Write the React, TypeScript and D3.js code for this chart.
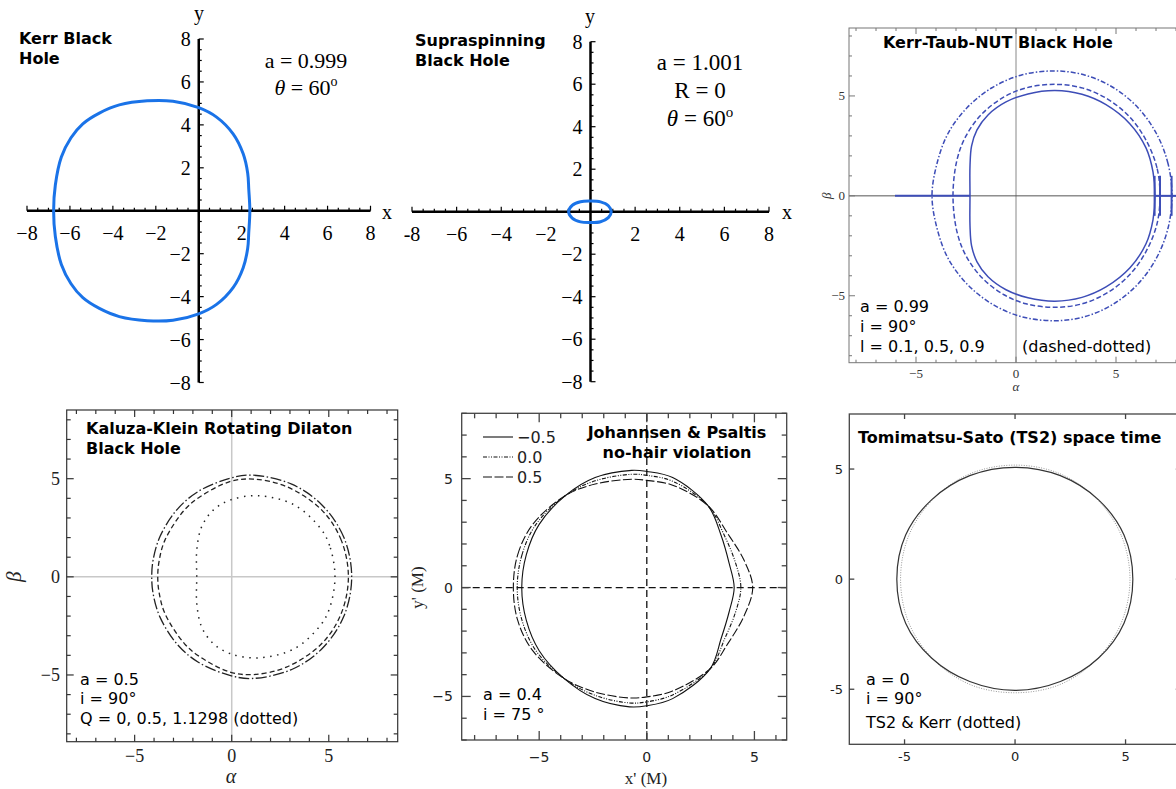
import React from 'react';
import * as d3 from 'd3';

type Pt = [number, number];

const SANS = 'DejaVu Sans, sans-serif';
const SERIF = 'Liberation Serif, Times New Roman, serif';

// Kerr black hole, a = 0.999, theta = 60
const kerrShadow: Pt[] = [
  [2.38, 0], [2.33, 1.0], [2.28, 1.75], [2.07, 2.65], [1.6, 3.58], [0.83, 4.36],
  [0, 4.8], [-1.2, 5.1], [-2.4, 5.12], [-3.7, 4.93], [-4.63, 4.55], [-5.4, 4.05],
  [-5.95, 3.4], [-6.4, 2.5], [-6.68, 1.2], [-6.76, 0],
  [-6.68, -1.2], [-6.4, -2.5], [-5.95, -3.4], [-5.4, -4.05], [-4.63, -4.55],
  [-3.7, -4.93], [-2.4, -5.12], [-1.2, -5.1], [0, -4.8], [0.83, -4.36],
  [1.6, -3.58], [2.07, -2.65], [2.28, -1.75], [2.33, -1.0],
];

// Supraspinning, a = 1.001
const supraShadow: Pt[] = [
  [0.93, 0], [0.8, 0.28], [0.45, 0.46], [0, 0.5], [-0.45, 0.47], [-0.82, 0.3], [-0.98, 0],
  [-0.82, -0.3], [-0.45, -0.48], [0, -0.51], [0.45, -0.47], [0.8, -0.28],
];

const crossTickValues = [-8, -6, -4, -2, 2, 4, 6, 8];
const kerrXLabels = ['−8', '−6', '−4', '−2', '2', '4', '6', '8'];
const supraXLabels = ['-8', '−6', '−4', '−2', '2', '4', '6', '8'];
const crossYLabels = ['−8', '−6', '−4', '−2', '2', '4', '6', '8'];

// Kerr-Taub-NUT, l = 0.1 (solid), 0.5 (dashed), 0.9 (dash-dotted)
const nutSolid: Pt[] = [
  [6.95, 0], [6.85, 1.2], [6.5, 2.4], [5.7, 3.6], [4.5, 4.56], [3.3, 5.08], [1.95, 5.27],
  [0.6, 5.1], [-0.5, 4.7], [-1.4, 4.05], [-1.95, 3.3], [-2.22, 2.5], [-2.3, 1.5], [-2.3, 0],
  [-2.3, -1.5], [-2.22, -2.5], [-1.95, -3.3], [-1.4, -4.05], [-0.5, -4.7], [0.6, -5.1],
  [1.95, -5.27], [3.3, -5.08], [4.5, -4.56], [5.7, -3.6], [6.5, -2.4], [6.85, -1.2],
];
const nutDashed: Pt[] = [
  [7.2, 0], [7.05, 1.4], [6.5, 2.79], [5.68, 3.95], [4.6, 4.83], [3.35, 5.39], [1.95, 5.58],
  [0.5, 5.4], [-0.6, 4.95], [-1.7, 4.1], [-2.5, 3.0], [-2.95, 1.8], [-3.15, 0],
  [-2.95, -1.8], [-2.5, -3.0], [-1.7, -4.1], [-0.6, -4.95], [0.5, -5.4], [1.95, -5.58],
  [3.35, -5.39], [4.6, -4.83], [5.68, -3.95], [6.5, -2.79], [7.05, -1.4],
];
const nutDashDot: Pt[] = [
  [7.8, 0], [7.6, 1.62], [7.02, 3.12], [6.09, 4.42], [4.88, 5.41], [3.46, 6.04], [1.95, 6.25],
  [0.25, 6.04], [-1.2, 5.41], [-2.44, 4.42], [-3.4, 3.12], [-3.95, 1.62], [-4.2, 0],
  [-3.95, -1.62], [-3.4, -3.12], [-2.44, -4.42], [-1.2, -5.41], [0.25, -6.04], [1.95, -6.25],
  [3.46, -6.04], [4.88, -5.41], [6.09, -4.42], [7.02, -3.12], [7.6, -1.62],
];
const nutBranchLeft = [-6.05, -2.3];
const nutBranchRight = [6.9, 8.4];
const nutSpikes = [6.93, 7.2, 7.78];
const nutSpikeHeight = 1.0;

// Kaluza-Klein rotating dilaton, Q = 0, 0.5, 1.1298
const kkQ0: Pt[] = [
  [6.18, 0], [5.78, 2.0], [4.66, 3.65], [3.09, 4.72], [1.05, 5.18], [-0.1, 5.02], [-1.74, 4.34],
  [-2.84, 3.4], [-3.7, 2.04], [-4.05, 0.85], [-4.12, 0], [-4.05, -0.85], [-3.7, -2.04],
  [-2.84, -3.4], [-1.74, -4.34], [-0.1, -5.02], [1.05, -5.18], [3.09, -4.72], [4.66, -3.65], [5.78, -2.0],
];
const kkQ05: Pt[] = [
  [6.01, 0], [5.64, 1.87], [4.64, 3.4], [2.82, 4.6], [1.1, 4.98], [-0.1, 4.85], [-1.63, 4.08],
  [-2.44, 3.4], [-3.44, 1.87], [-3.74, 0.8], [-3.81, 0], [-3.74, -0.8], [-3.44, -1.87],
  [-2.44, -3.4], [-1.63, -4.08], [-0.1, -4.85], [1.1, -4.98], [2.82, -4.6], [4.64, -3.4], [5.64, -1.87],
];
const kkQ11: Pt[] = [
  [5.32, 0], [5.04, 1.6], [4.57, 2.47], [3.23, 3.66], [1.37, 4.13], [-0.09, 3.91], [-0.95, 3.4],
  [-1.55, 2.55], [-1.8, 1.36], [-1.8, 0], [-1.8, -1.36], [-1.55, -2.55], [-0.95, -3.4],
  [-0.09, -3.91], [1.37, -4.13], [3.23, -3.66], [4.57, -2.47], [5.04, -1.6],
];

// Johannsen & Psaltis, eps3 = -0.5, 0.0, 0.5
const jpMinus: Pt[] = [
  [-5.81, 0], [-5.6, 1.5], [-5.0, 2.9], [-3.77, 4.23], [-2.4, 5.05], [-0.7, 5.38], [0, 5.33],
  [1.2, 5.05], [2.85, 3.75], [3.45, 2.4], [3.83, 1.1], [4.06, 0], [3.83, -1.1], [3.45, -2.35],
  [2.95, -3.72], [1.2, -5.1], [0, -5.43], [-0.8, -5.48], [-2.4, -5.1], [-3.85, -4.17],
  [-5.0, -2.9], [-5.6, -1.5],
];
const jpZero: Pt[] = [
  [-6.02, 0], [-5.8, 1.5], [-5.15, 2.9], [-3.77, 4.23], [-2.4, 4.9], [-0.7, 5.2], [0, 5.15],
  [1.2, 4.88], [2.85, 3.75], [3.6, 2.4], [4.13, 1.11], [4.37, 0], [4.13, -1.11], [3.62, -2.35],
  [2.95, -3.72], [1.2, -4.93], [0, -5.25], [-0.8, -5.3], [-2.4, -4.95], [-3.85, -4.17],
  [-5.15, -2.9], [-5.8, -1.5],
];
const jpPlus: Pt[] = [
  [-6.2, 0], [-6.0, 1.5], [-5.3, 2.9], [-3.77, 4.23], [-2.4, 4.75], [-0.7, 4.97], [0, 4.92],
  [1.2, 4.7], [2.85, 3.75], [3.75, 2.49], [4.52, 1.25], [4.92, 0], [4.52, -1.3], [3.75, -2.6],
  [2.95, -3.72], [1.2, -4.75], [0, -5.02], [-0.8, -5.07], [-2.4, -4.8], [-3.85, -4.17],
  [-5.3, -2.9], [-6.0, -1.5],
];
const jpLegendLabels = ['−0.5', '0.0', '0.5'];

// Tomimatsu-Sato TS2 and Kerr (a = 0)
const ts2Shadow: Pt[] = [
  [5.33, 0], [4.93, 2.0], [3.78, 3.6], [2.05, 4.7], [0, 5.08], [-2.05, 4.7], [-3.78, 3.6],
  [-4.95, 2.0], [-5.35, 0], [-4.95, -2.0], [-3.78, -3.58], [-2.05, -4.65], [0, -5.05],
  [2.05, -4.65], [3.78, -3.58], [4.93, -2.0],
];
const tsKerrShadow: Pt[] = [
  [5.2, 0], [4.8, 2.0], [3.67, 3.67], [2.0, 4.8], [0, 5.18], [-2.0, 4.8], [-3.67, 3.67],
  [-4.8, 2.0], [-5.18, 0], [-4.8, -2.0], [-3.67, -3.67], [-2.0, -4.8], [0, -5.16],
  [2.0, -4.8], [3.67, -3.67], [4.8, -2.0],
];

const fiveTicks = [-5, 0, 5];
const fiveLabels = ['−5', '0', '5'];
const tsLabels = ['-5', '0', '5'];

type Scale = d3.ScaleLinear<number, number>;

function closedPath(pts: Pt[], x: Scale, y: Scale) {
  return d3.line<Pt>()
    .x(d => x(d[0]))
    .y(d => y(d[1]))
    .curve(d3.curveCatmullRomClosed.alpha(0.5))(pts) || '';
}

function CrossAxes({ x, y, xLabels }: { x: Scale; y: Scale; xLabels: string[] }) {
  const ox = x(0), oy = y(0);
  const [xa, xb] = x.range();
  const [yb, ya] = y.range();
  const minor = d3.range(-8, 8.25, 0.5).filter(v => v !== 0);
  return (
    <g>
      <line x1={xa} x2={xb} y1={oy} y2={oy} stroke="#000" strokeWidth={2.5} />
      <line x1={ox} x2={ox} y1={ya} y2={yb} stroke="#000" strokeWidth={2.5} />
      {minor.map(v => (
        <line key={'x' + v} x1={x(v)} x2={x(v)} y1={oy} y2={oy - (v % 2 === 0 ? 5 : 3)} stroke="#000" strokeWidth={1.2} />
      ))}
      {minor.map(v => (
        <line key={'y' + v} x1={ox} x2={ox + (v % 2 === 0 ? 5 : 3)} y1={y(v)} y2={y(v)} stroke="#000" strokeWidth={1.2} />
      ))}
      {crossTickValues.map((v, i) => (
        <text key={'xl' + v} x={x(v)} y={oy + 29} textAnchor="middle" fontFamily={SERIF} fontSize={20}>{xLabels[i]}</text>
      ))}
      {crossTickValues.map((v, i) => (
        <text key={'yl' + v} x={ox - 8} y={y(v) + 7} textAnchor="end" fontFamily={SERIF} fontSize={20}>{crossYLabels[i]}</text>
      ))}
    </g>
  );
}

function Frame({ x, y, xTicks, yTicks, minorLen, majorLen, stroke, strokeWidth }: {
  x: Scale; y: Scale; xTicks: number[]; yTicks: number[]; minorLen: number; majorLen: number; stroke: string; strokeWidth: number;
}) {
  const [l, r] = x.range();
  const [b, t] = y.range();
  const len = (v: number) => (v % 5 === 0 ? majorLen : minorLen);
  return (
    <g stroke={stroke} strokeWidth={strokeWidth} fill="none">
      <rect x={l} y={t} width={r - l} height={b - t} />
      {xTicks.map(v => (
        <g key={'xt' + v}>
          <line x1={x(v)} x2={x(v)} y1={b} y2={b - len(v)} />
          <line x1={x(v)} x2={x(v)} y1={t} y2={t + len(v)} />
        </g>
      ))}
      {yTicks.map(v => (
        <g key={'yt' + v}>
          <line x1={l} x2={l + len(v)} y1={y(v)} y2={y(v)} />
          <line x1={r} x2={r - len(v)} y1={y(v)} y2={y(v)} />
        </g>
      ))}
    </g>
  );
}

const unitTicks = (s: Scale) => {
  const [a, b] = s.domain();
  return d3.range(Math.ceil(a), Math.floor(b) + 1);
};

export default function App() {
  // panel 1: Kerr
  const x1 = d3.scaleLinear().domain([-8, 8]).range([27, 370.5]);
  const y1 = d3.scaleLinear().domain([-8, 8]).range([382.5, 39]);
  // panel 2: supraspinning
  const x2 = d3.scaleLinear().domain([-8, 8]).range([412, 769]);
  const y2 = d3.scaleLinear().domain([-8, 8]).range([381.7, 41.7]);
  // panel 3: Kerr-Taub-NUT
  const x3 = d3.scaleLinear().domain([-8.35, 8.4]).range([849, 1184]);
  const y3 = d3.scaleLinear().domain([-8.35, 8.4]).range([362.7, 28]);
  // panel 4: Kaluza-Klein
  const x4 = d3.scaleLinear().domain([-8.5, 8.55]).range([66.7, 397.7]);
  const y4 = d3.scaleLinear().domain([-8.4, 8.5]).range([741.7, 410]);
  // panel 5: Johannsen & Psaltis
  const x5 = d3.scaleLinear().domain([-8.6, 6.5]).range([461.7, 786.7]);
  const y5 = d3.scaleLinear().domain([-7, 8]).range([740, 413.3]);
  // panel 6: Tomimatsu-Sato
  const x6 = d3.scaleLinear().domain([-7.5, 7.5]).range([849.3, 1180.8]);
  const y6 = d3.scaleLinear().domain([-7.5, 7.5]).range([744.3, 414]);

  const kerrBlue = '#1a73e8';
  const nutBlue = '#3d4db7';
  const jpStyles = ['', '4,1.5,1,1.5,1,1.5', '9,2.5'];

  return (
    <svg width={1176} height={789} style={{ position: 'absolute', left: 0, top: 0, background: '#fff' }}>
      <rect width={1176} height={789} fill="#fff" />

      {/* Panel 1 */}
      <CrossAxes x={x1} y={y1} xLabels={kerrXLabels} />
      <path d={closedPath(kerrShadow, x1, y1)} fill="none" stroke={kerrBlue} strokeWidth={3} />
      <text x={387} y={219} textAnchor="middle" fontFamily={SERIF} fontSize={20}>x</text>
      <text x={199} y={20} textAnchor="middle" fontFamily={SERIF} fontSize={20}>y</text>
      <text x={19} y={44} fontFamily={SANS} fontWeight="bold" fontSize={16}>Kerr Black</text>
      <text x={19} y={64} fontFamily={SANS} fontWeight="bold" fontSize={16}>Hole</text>
      <text x={306} y={68} textAnchor="middle" fontFamily={SERIF} fontSize={22}>a = 0.999</text>
      <text x={306} y={95} textAnchor="middle" fontFamily={SERIF} fontSize={22}>
        <tspan fontStyle="italic">θ</tspan> = 60<tspan fontSize={14} dy={-9}>o</tspan>
      </text>

      {/* Panel 2 */}
      <CrossAxes x={x2} y={y2} xLabels={supraXLabels} />
      <path d={closedPath(supraShadow, x2, y2)} fill="none" stroke={kerrBlue} strokeWidth={3} />
      <text x={787} y={219} textAnchor="middle" fontFamily={SERIF} fontSize={20}>x</text>
      <text x={590} y={23} textAnchor="middle" fontFamily={SERIF} fontSize={20}>y</text>
      <text x={415} y={46} fontFamily={SANS} fontWeight="bold" fontSize={16}>Supraspinning</text>
      <text x={415} y={66} fontFamily={SANS} fontWeight="bold" fontSize={16}>Black Hole</text>
      <text x={700} y={70} textAnchor="middle" fontFamily={SERIF} fontSize={23}>a = 1.001</text>
      <text x={700} y={98} textAnchor="middle" fontFamily={SERIF} fontSize={23}>R = 0</text>
      <text x={700} y={126} textAnchor="middle" fontFamily={SERIF} fontSize={23}>
        <tspan fontStyle="italic">θ</tspan> = 60<tspan fontSize={15} dy={-9}>o</tspan>
      </text>

      {/* Panel 3 */}
      <line x1={x3(0)} x2={x3(0)} y1={y3.range()[0]} y2={y3.range()[1]} stroke="#888" strokeWidth={1} />
      <line x1={x3.range()[0]} x2={x3.range()[1]} y1={y3(0)} y2={y3(0)} stroke="#555" strokeWidth={1} />
      <Frame x={x3} y={y3} xTicks={unitTicks(x3)} yTicks={unitTicks(y3)} minorLen={3} majorLen={6} stroke="#777" strokeWidth={1} />
      <g fill="none" stroke={nutBlue}>
        <path d={closedPath(nutSolid, x3, y3)} strokeWidth={1.5} />
        <path d={closedPath(nutDashed, x3, y3)} strokeWidth={1.5} strokeDasharray="5,2.5" />
        <path d={closedPath(nutDashDot, x3, y3)} strokeWidth={1.5} strokeDasharray="5,2,1.5,2" />
        <line x1={x3(nutBranchLeft[0])} x2={x3(nutBranchLeft[1])} y1={y3(0)} y2={y3(0)} strokeWidth={2} />
        <line x1={x3(nutBranchRight[0])} x2={x3(nutBranchRight[1])} y1={y3(0)} y2={y3(0)} strokeWidth={2} />
        {nutSpikes.map(v => (
          <line key={v} x1={x3(v)} x2={x3(v)} y1={y3(nutSpikeHeight)} y2={y3(-nutSpikeHeight)} strokeWidth={2} />
        ))}
      </g>
      {fiveTicks.map((v, i) => (
        <text key={'b3' + v} x={x3(v)} y={378} textAnchor="middle" fontFamily={SERIF} fontSize={13} fill="#333">{fiveLabels[i]}</text>
      ))}
      {fiveTicks.map((v, i) => (
        <text key={'l3' + v} x={845} y={y3(v) + 4} textAnchor="end" fontFamily={SERIF} fontSize={13} fill="#333">{fiveLabels[i]}</text>
      ))}
      <text x={1016} y={391} textAnchor="middle" fontFamily={SERIF} fontStyle="italic" fontSize={13} fill="#333">α</text>
      <text transform={`translate(831,${y3(0)}) rotate(-90)`} textAnchor="middle" fontFamily={SERIF} fontStyle="italic" fontSize={13} fill="#333">β</text>
      <text x={883} y={48} fontFamily={SANS} fontWeight="bold" fontSize={16}>Kerr-Taub-NUT Black Hole</text>
      <text x={860} y={312} fontFamily={SANS} fontSize={16}>a = 0.99</text>
      <text x={860} y={332} fontFamily={SANS} fontSize={16}>i = 90°</text>
      <text x={860} y={352} fontFamily={SANS} fontSize={16}>l = 0.1, 0.5, 0.9</text>
      <text x={1022} y={352} fontFamily={SANS} fontSize={16}>(dashed-dotted)</text>

      {/* Panel 4 */}
      <line x1={x4(0)} x2={x4(0)} y1={y4.range()[0]} y2={y4.range()[1]} stroke="#c8c8c8" strokeWidth={1.5} />
      <line x1={x4.range()[0]} x2={x4.range()[1]} y1={y4(0)} y2={y4(0)} stroke="#c8c8c8" strokeWidth={1.5} />
      <Frame x={x4} y={y4} xTicks={unitTicks(x4)} yTicks={unitTicks(y4)} minorLen={4} majorLen={7} stroke="#333" strokeWidth={1.2} />
      <g fill="none" stroke="#222">
        <path d={closedPath(kkQ0, x4, y4)} strokeWidth={1.3} strokeDasharray="11,2.5,1.5,2.5" />
        <path d={closedPath(kkQ05, x4, y4)} strokeWidth={1.3} strokeDasharray="5,3" />
        <path d={closedPath(kkQ11, x4, y4)} strokeWidth={1.5} strokeDasharray="1.5,5.5" />
      </g>
      {fiveTicks.map((v, i) => (
        <text key={'b4' + v} x={x4(v)} y={762} textAnchor="middle" fontFamily={SERIF} fontSize={18} fill="#222">{fiveLabels[i]}</text>
      ))}
      {fiveTicks.map((v, i) => (
        <text key={'l4' + v} x={60} y={y4(v) + 6} textAnchor="end" fontFamily={SERIF} fontSize={18} fill="#222">{fiveLabels[i]}</text>
      ))}
      <text x={231} y={783} textAnchor="middle" fontFamily={SERIF} fontStyle="italic" fontSize={20} fill="#222">α</text>
      <text transform={`translate(21,${y4(0)}) rotate(-90)`} textAnchor="middle" fontFamily={SERIF} fontStyle="italic" fontSize={21} fill="#222">β</text>
      <text x={86} y={434} fontFamily={SANS} fontWeight="bold" fontSize={16}>Kaluza-Klein Rotating Dilaton</text>
      <text x={86} y={454} fontFamily={SANS} fontWeight="bold" fontSize={16}>Black Hole</text>
      <text x={80} y={685} fontFamily={SANS} fontSize={16}>a = 0.5</text>
      <text x={80} y={704} fontFamily={SANS} fontSize={16}>i = 90°</text>
      <text x={80} y={724} fontFamily={SANS} fontSize={16}>Q = 0, 0.5, 1.1298 (dotted)</text>

      {/* Panel 5 */}
      <line x1={x5(0)} x2={x5(0)} y1={y5.range()[0]} y2={y5.range()[1]} stroke="#111" strokeWidth={1.3} strokeDasharray="7,4" />
      <line x1={x5.range()[0]} x2={x5.range()[1]} y1={y5(0)} y2={y5(0)} stroke="#111" strokeWidth={1.3} strokeDasharray="7,4" />
      <Frame x={x5} y={y5} xTicks={unitTicks(x5)} yTicks={unitTicks(y5)} minorLen={5} majorLen={9} stroke="#444" strokeWidth={1.3} />
      <g fill="none" stroke="#111" strokeWidth={1.1}>
        <path d={closedPath(jpMinus, x5, y5)} strokeDasharray={jpStyles[0] || undefined} />
        <path d={closedPath(jpZero, x5, y5)} strokeDasharray={jpStyles[1]} />
        <path d={closedPath(jpPlus, x5, y5)} strokeDasharray={jpStyles[2]} />
      </g>
      {jpLegendLabels.map((lab, i) => (
        <g key={lab}>
          <line x1={483} x2={513} y1={437 + i * 20} y2={437 + i * 20} stroke="#111" strokeWidth={1.1} strokeDasharray={jpStyles[i] || undefined} />
          <text x={517} y={443 + i * 20} fontFamily={SANS} fontSize={16} fill="#222">{lab}</text>
        </g>
      ))}
      {fiveTicks.map((v, i) => (
        <text key={'b5' + v} x={x5(v)} y={762} textAnchor="middle" fontFamily={SANS} fontSize={14} fill="#222">{fiveLabels[i]}</text>
      ))}
      {fiveTicks.map((v, i) => (
        <text key={'l5' + v} x={453} y={y5(v) + 5} textAnchor="end" fontFamily={SANS} fontSize={14} fill="#222">{fiveLabels[i]}</text>
      ))}
      <text x={646} y={784} textAnchor="middle" fontFamily={SERIF} fontSize={17} fill="#222">x' (M)</text>
      <text transform={`translate(423,${y5(0)}) rotate(-90)`} textAnchor="middle" fontFamily={SERIF} fontSize={17} fill="#222">y' (M)</text>
      <text x={677} y={438} textAnchor="middle" fontFamily={SANS} fontWeight="bold" fontSize={16}>Johannsen &amp; Psaltis</text>
      <text x={677} y={458} textAnchor="middle" fontFamily={SANS} fontWeight="bold" fontSize={16}>no-hair violation</text>
      <text x={483} y={700} fontFamily={SANS} fontSize={16}>a = 0.4</text>
      <text x={483} y={720} fontFamily={SANS} fontSize={16}>i = 75 °</text>

      {/* Panel 6 */}
      <Frame x={x6} y={y6} xTicks={fiveTicks} yTicks={fiveTicks} minorLen={5} majorLen={5} stroke="#444" strokeWidth={1.3} />
      <path d={closedPath(tsKerrShadow, x6, y6)} fill="none" stroke="#999" strokeWidth={1} strokeDasharray="1,1.5" />
      <path d={closedPath(ts2Shadow, x6, y6)} fill="none" stroke="#333" strokeWidth={1.2} />
      {fiveTicks.map((v, i) => (
        <text key={'b6' + v} x={x6(v)} y={761} textAnchor="middle" fontFamily={SANS} fontSize={13} fill="#222">{tsLabels[i]}</text>
      ))}
      {fiveTicks.map((v, i) => (
        <text key={'l6' + v} x={843} y={y6(v) + 5} textAnchor="end" fontFamily={SANS} fontSize={13} fill="#222">{tsLabels[i]}</text>
      ))}
      <text x={858} y={443} fontFamily={SANS} fontWeight="bold" fontSize={16}>Tomimatsu-Sato (TS2) space time</text>
      <text x={866} y={685} fontFamily={SANS} fontSize={16}>a = 0</text>
      <text x={866} y={704} fontFamily={SANS} fontSize={16}>i = 90°</text>
      <text x={866} y={728} fontFamily={SANS} fontSize={16}>TS2 &amp; Kerr (dotted)</text>
    </svg>
  );
}
